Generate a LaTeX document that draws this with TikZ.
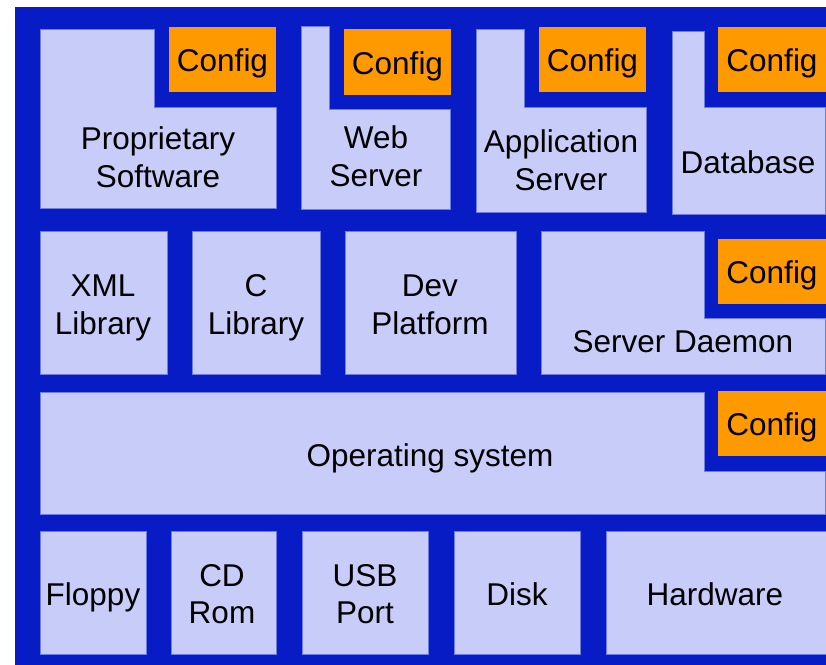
\documentclass[tikz,border=0pt]{standalone}
\usepackage{fontspec}
\setmainfont{Liberation Sans}

\definecolor{stackblue}{RGB}{8,28,198}
\definecolor{layerfill}{RGB}{200,204,249}
\definecolor{layeredge}{RGB}{110,124,230}
\definecolor{configfill}{RGB}{255,153,0}

\begin{document}
\begin{tikzpicture}[x=0.5pt,y=-0.5pt,
  layer/.style={fill=layerfill,draw=layeredge,line width=0.4pt},
  config/.style={fill=configfill},
  label/.style={align=center,inner sep=0pt,
    font=\fontsize{15.75}{18.8}\selectfont}]

  \useasboundingbox (0,0) rectangle (826,665);
  \fill[stackblue] (15,7) rectangle (826,665);

  % applications with their own config
  \path[layer] (40,29) -- (154,29) -- (154,107) -- (276,107)
    -- (276,208) -- (40,208) -- cycle;
  \path[layer] (301,26) -- (329,26) -- (329,109) -- (450,109)
    -- (450,209) -- (301,209) -- cycle;
  \path[layer] (476,29) -- (524,29) -- (524,107) -- (646,107)
    -- (646,212) -- (476,212) -- cycle;
  \path[layer] (672,31) -- (704,31) -- (704,107) -- (825,107)
    -- (825,214) -- (672,214) -- cycle;
  \node[label] (prop) at (158,157) {Proprietary\\Software};
  \node[label] (web)  at (376,156) {Web\\Server};
  \node[label] (app)  at (561,160) {Application\\Server};
  \node[label] (db)   at (748,162) {Database};

  % libraries and platform
  \path[layer] (40,231) rectangle (167,374);
  \path[layer] (192,231) rectangle (320,374);
  \path[layer] (345,231) rectangle (516,374);
  \path[layer] (541,231) -- (704,231) -- (704,318) -- (825,318)
    -- (825,374) -- (541,374) -- cycle;
  \node[label] (xml)    at (103,308) {XML\\Library};
  \node[label] (clib)   at (256,308) {C\\Library};
  \node[label] (dev)    at (430,305) {Dev\\Platform};
  \node[label] (daemon) at (683,342) {Server Daemon};

  % operating system
  \path[layer] (40,392) -- (704,392) -- (704,471) -- (825,471)
    -- (825,514) -- (40,514) -- cycle;
  \node[label] (os) at (430,458) {Operating system};

  % hardware row
  \path[layer] (40,531) rectangle (146,654);
  \path[layer] (171,531) rectangle (276,654);
  \path[layer] (302,531) rectangle (428,654);
  \path[layer] (454,531) rectangle (580,654);
  \path[layer] (606,531) rectangle (826,654);
  \node[label] (floppy) at (93,597)  {Floppy};
  \node[label] (cdrom)  at (222,594) {CD\\Rom};
  \node[label] (usb)    at (365,594) {USB\\Port};
  \node[label] (disk)   at (517,594) {Disk};
  \node[label] (hw)     at (715,594) {Hardware};

  % config blocks
  \fill[config] (169,27) rectangle (276,92);
  \fill[config] (344,29) rectangle (451,95);
  \fill[config] (539,27) rectangle (646,92);
  \fill[config] (718,27) rectangle (826,92);
  \fill[config] (718,239) rectangle (826,304);
  \fill[config] (718,391) rectangle (826,456);
  \node[label] (cfgprop)   at (222.5,63.5)  {Config};
  \node[label] (cfgweb)    at (397.5,66)    {Config};
  \node[label] (cfgapp)    at (592.5,63.5)  {Config};
  \node[label] (cfgdb)     at (772,63.5)    {Config};
  \node[label] (cfgdaemon) at (772,275)     {Config};
  \node[label] (cfgos)     at (772,427)     {Config};

\end{tikzpicture}
\end{document}
